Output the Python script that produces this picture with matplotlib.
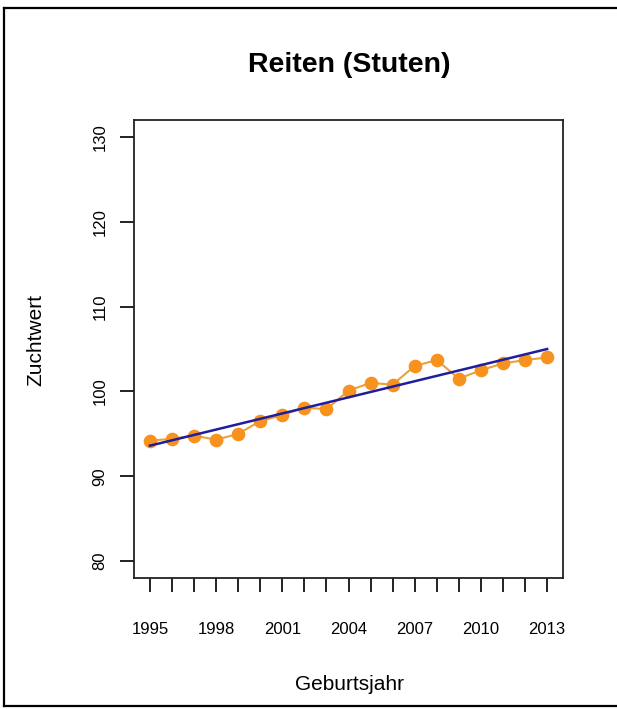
import matplotlib
matplotlib.use("Agg")
import matplotlib.pyplot as plt
from matplotlib.lines import Line2D

plt.rcParams['font.family'] = ['Liberation Sans', 'DejaVu Sans']

# Mean breeding value of mares by birth year
years = [1995, 1996, 1997, 1998, 1999, 2000, 2001, 2002, 2003, 2004,
         2005, 2006, 2007, 2008, 2009, 2010, 2011, 2012, 2013]
zuchtwert = [94.2, 94.4, 94.8, 94.3, 95.0, 96.5, 97.2, 98.1, 97.9, 100.1,
             101.0, 100.8, 103.0, 103.7, 101.5, 102.5, 103.3, 103.7, 104.0]

# Linear trend, evaluated at the first and last birth year
trend_years = [1995, 2013]
trend_values = [93.6, 105.0]

xtick_labels = ["1995", "1998", "2001", "2004", "2007", "2010", "2013"]
ytick_values = [80, 90, 100, 110, 120, 130]

fig = plt.figure(figsize=(6.17, 7.09), dpi=100)
ax = fig.add_axes([0.2172, 0.1848, 0.6953, 0.6459])

ax.plot(years, zuchtwert, color="#E9A13B", linewidth=1.5, zorder=2)
ax.plot(years, zuchtwert, linestyle="none", marker="o", markersize=8.8,
        markerfacecolor="#F7921E", markeredgecolor="#F7921E", zorder=3)
ax.plot(trend_years, trend_values, color="#1E1E9E", linewidth=1.8, zorder=4)

ax.set_xlim(1994.28, 2013.72)
ax.set_ylim(78, 132)

ax.set_xticks(years)
ax.set_xticklabels([str(y) if str(y) in xtick_labels else "" for y in years],
                   fontsize=12)
ax.set_yticks(ytick_values)
ax.set_yticklabels([str(v) for v in ytick_values], rotation=90, va="center",
                   fontsize=12)

ax.tick_params(axis="x", direction="out", length=10, width=1.4, pad=22,
               color="#222222")
ax.tick_params(axis="y", direction="out", length=10, width=1.4, pad=9,
               color="#222222")
for side in ax.spines.values():
    side.set_linewidth(1.3)
    side.set_color("#222222")

fig.text(0.566, 0.908, "Reiten (Stuten)", ha="center", va="center",
         fontsize=20.5, fontweight="bold")
fig.text(0.566, 0.035, "Geburtsjahr", ha="center", va="center", fontsize=15)
fig.text(0.058, 0.52, "Zuchtwert", ha="center", va="center", fontsize=15,
         rotation=90)

# Outer frame around the figure (left, top, bottom)
frame_kw = dict(color="black", linewidth=1.6, transform=fig.transFigure)
fig.add_artist(Line2D([0.006, 0.006], [0.004, 0.989], **frame_kw))
fig.add_artist(Line2D([0.006, 1.0], [0.989, 0.989], **frame_kw))
fig.add_artist(Line2D([0.006, 1.0], [0.004, 0.004], **frame_kw))

fig.savefig("out.png", dpi=100)
